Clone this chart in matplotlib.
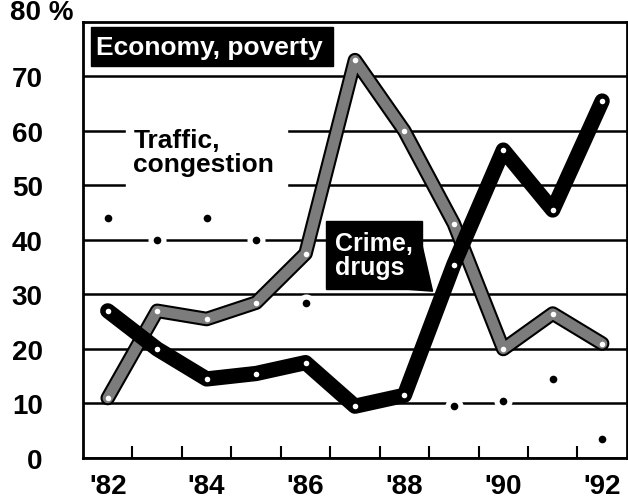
import numpy as np
import matplotlib
matplotlib.use('Agg')
import matplotlib.pyplot as plt
from matplotlib.patches import Rectangle, Polygon

plt.rcParams['font.family'] = ['Liberation Sans', 'DejaVu Sans']
plt.rcParams['font.weight'] = 'bold'

# data (percent)
years = np.arange(82, 93)
crime = [27, 20, 14.5, 15.5, 17.5, 9.5, 11.5, 35.5, 56.5, 45.5, 65.5]
traffic = [11, 27, 25.5, 28.5, 37.5, 73, 60, 43, 20, 26.5, 21]
economy = [44, 40, 44, 40, 28.5, np.nan, np.nan, 9.5, 10.5, 14.5, 3.5]
year_labels = ["'82", "'84", "'86", "'88", "'90", "'92"]
y_ticks = [0, 10, 20, 30, 40, 50, 60, 70]

GRAY = '#7c7c7c'

fig = plt.figure(figsize=(6.28, 5.02), dpi=100)
ax = fig.add_axes([0.1322, 0.0857, 0.866, 0.8685])
ax.set_xlim(81.5, 92.5)
ax.set_ylim(0, 80)

# frame + grid
for sp in ax.spines.values():
    sp.set_linewidth(2)
ax.set_yticks(y_ticks)
ax.set_yticklabels([str(v) for v in y_ticks], fontsize=20, fontweight='bold')
ax.yaxis.grid(True, color='black', lw=1.8, zorder=1)
ax.set_axisbelow(True)
ax.tick_params(axis='y', length=0, pad=29)

ax.set_xticks(years[::2])
ax.set_xticklabels(year_labels, fontsize=20, fontweight='bold')
ax.tick_params(axis='x', which='major', length=0, pad=11)
ax.set_xticks(np.arange(82.5, 92, 1), minor=True)
ax.tick_params(axis='x', which='minor', direction='in', length=8.5, width=1.5)

# economy, poverty: dots with white halo that breaks the gridlines
ax.plot(years, economy, 'o', ms=13, color='white', mec='none', zorder=2)
ax.plot(years, economy, 'o', ms=5.5, color='black', mec='none', zorder=2.5)

# traffic, congestion: gray band with black edge
ax.plot(years, traffic, color='black', lw=10.5, solid_capstyle='round',
        solid_joinstyle='round', zorder=3)
ax.plot(years, traffic, color=GRAY, lw=7.5, solid_capstyle='round',
        solid_joinstyle='round', zorder=3.1)
ax.plot(years, traffic, 'o', ms=4, color='white', mec='none', zorder=3.2)

# crime, drugs: thick black line
ax.plot(years, crime, color='black', lw=11, solid_capstyle='round',
        solid_joinstyle='round', zorder=4)
ax.plot(years, crime, 'o', ms=4, color='white', mec='none', zorder=4.1)

# labels
ax.add_patch(Rectangle((81.66, 71.9), 4.9, 7.2, color='black', zorder=5))
ax.text(81.76, 75.4, 'Economy, poverty', color='white', fontsize=19,
        fontweight='bold', ha='left', va='center', zorder=6)

ax.add_patch(Rectangle((82.36, 49.4), 3.27, 11.9, color='white', zorder=2.2))
ax.text(82.52, 56.2, 'Traffic,\ncongestion', color='black', fontsize=19,
        fontweight='bold', ha='left', va='center', linespacing=1.0, zorder=6)

ax.add_patch(Rectangle((86.42, 31.0), 1.93, 12.5, color='black', zorder=5))
ax.add_patch(Polygon([(88.35, 39.3), (88.57, 30.6), (88.0, 31.0)],
                     closed=True, color='black', zorder=5))
ax.text(86.6, 37.2, 'Crime,\ndrugs', color='white', fontsize=18,
        fontweight='bold', ha='left', va='center', linespacing=1.0, zorder=6)

fig.text(10 / 628, 1 - 13 / 502, '80 %', fontsize=20, fontweight='bold',
         ha='left', va='center')

fig.savefig('out.png', dpi=100)
